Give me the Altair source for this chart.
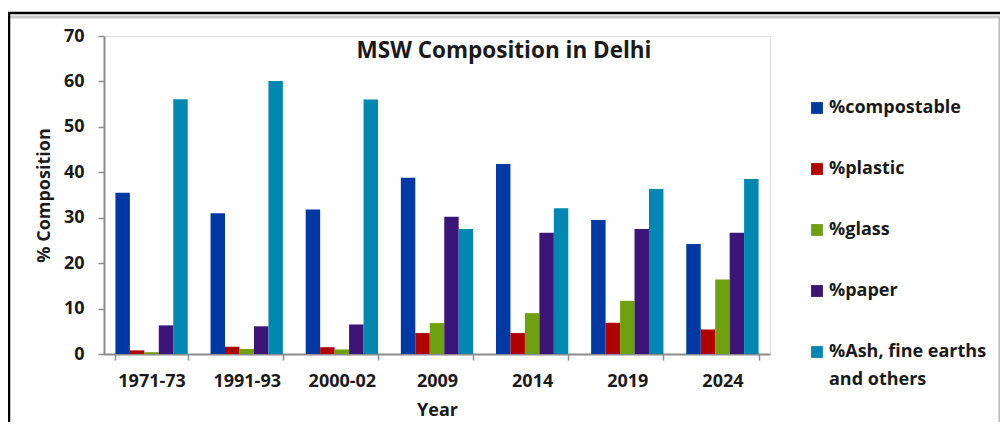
import altair as alt
import pandas as pd

years = ["1971-73", "1991-93", "2000-02", "2009", "2014", "2019", "2024"]
series = ["%compostable", "%plastic", "%glass", "%paper", "%Ash, fine earths and others"]
compostable = [35.5, 31.0, 31.8, 38.8, 41.8, 29.5, 24.2]
plastic = [0.8, 1.6, 1.5, 4.6, 4.6, 6.9, 5.4]
glass = [0.4, 1.1, 1.0, 6.8, 9.0, 11.7, 16.4]
paper = [6.3, 6.1, 6.5, 30.2, 26.7, 27.5, 26.7]
ash = [56.1, 60.1, 56.0, 27.5, 32.1, 36.3, 38.5]
colors = ["#0039A3", "#B00000", "#6FA010", "#3D1478", "#0088B3"]
y_ticks = [0, 10, 20, 30, 40, 50, 60, 70]
ash_label_first = "%Ash, fine earths"
ash_label_second = "and others"

values = [compostable, plastic, glass, paper, ash]
rows = []
for s, vals in zip(series, values):
    for yr, v in zip(years, vals):
        rows.append({"Year": yr, "Series": s, "Value": v})
df = pd.DataFrame(rows)

FONT = "Open Sans"
TXT = "#1a1a1a"
AX = "#8c8c8c"

bars = alt.Chart(df).mark_bar().encode(
    x=alt.X("Year:N", sort=years,
            scale=alt.Scale(paddingInner=0.24, paddingOuter=0.12),
            axis=alt.Axis(title="Year", labelAngle=0, tickBand="extent",
                          labelFontSize=18, labelFont=FONT, labelFontWeight="bold",
                          labelColor=TXT, labelPadding=12, tickSize=6,
                          titleFontSize=18, titleFont=FONT, titleFontWeight="bold",
                          titleColor=TXT, titlePadding=11,
                          domainColor=AX, tickColor=AX, domainWidth=2, tickWidth=1.5)),
    xOffset=alt.XOffset("Series:N", sort=series),
    y=alt.Y("Value:Q", scale=alt.Scale(domain=[0, 70], nice=False),
            axis=alt.Axis(title="% Composition", values=y_ticks, grid=False,
                          labelFontSize=18, labelFont=FONT, labelFontWeight="bold",
                          labelColor=TXT, labelPadding=14, tickSize=6,
                          titleFontSize=18, titleFont=FONT, titleFontWeight="bold",
                          titleColor=TXT, titlePadding=10,
                          domainColor=AX, tickColor=AX, domainWidth=2, tickWidth=1.5)),
    color=alt.Color("Series:N", sort=series,
                    scale=alt.Scale(domain=series, range=colors),
                    legend=alt.Legend(title=None, orient="none", legendX=704, legendY=63,
                                      symbolType="square", symbolSize=140,
                                      symbolStrokeWidth=0,
                                      labelFontSize=18, labelFont=FONT,
                                      labelFontWeight="bold", labelColor=TXT,
                                      labelOffset=3, rowPadding=43, labelLimit=300,
                                      labelExpr=f"datum.label == '{series[4]}' ? '{ash_label_first}' : datum.label")),
)

one = pd.DataFrame({"a": [0]})

title = alt.Chart(one).mark_text(fontSize=22.5, font=FONT, fontWeight="bold",
                                 color=TXT, align="center", baseline="middle").encode(
    x=alt.value(400), y=alt.value(15), text=alt.value("MSW Composition in Delhi"))

legend_cont = alt.Chart(one).mark_text(fontSize=18, font=FONT, fontWeight="bold",
                                       color=TXT, align="left", baseline="middle").encode(
    x=alt.value(725), y=alt.value(344), text=alt.value(ash_label_second))

top_black = alt.Chart(one).mark_rule(color="#000000", strokeWidth=2.5).encode(
    x=alt.value(-96), x2=alt.value(904), y=alt.value(-23))
top_gray = alt.Chart(one).mark_rule(color="#c8c8c8", strokeWidth=3).encode(
    x=alt.value(-94), x2=alt.value(898), y=alt.value(-19))
left_black = alt.Chart(one).mark_rule(color="#000000", strokeWidth=2.5).encode(
    x=alt.value(-95), y=alt.value(-23), y2=alt.value(400))
right_gray = alt.Chart(one).mark_rule(color="#b8b8b8", strokeWidth=3).encode(
    x=alt.value(896), y=alt.value(-19), y2=alt.value(400))

chart = alt.layer(top_black, top_gray, left_black, right_gray, bars, title, legend_cont).properties(
    width=666, height=318,
    autosize=alt.AutoSizeParams(type="none"),
    padding={"left": 96, "top": 28, "right": 230, "bottom": 68},
).configure_view(stroke=None).configure(background="white")

chart.save("out.html", embed_options={"renderer": "svg", "actions": False})
